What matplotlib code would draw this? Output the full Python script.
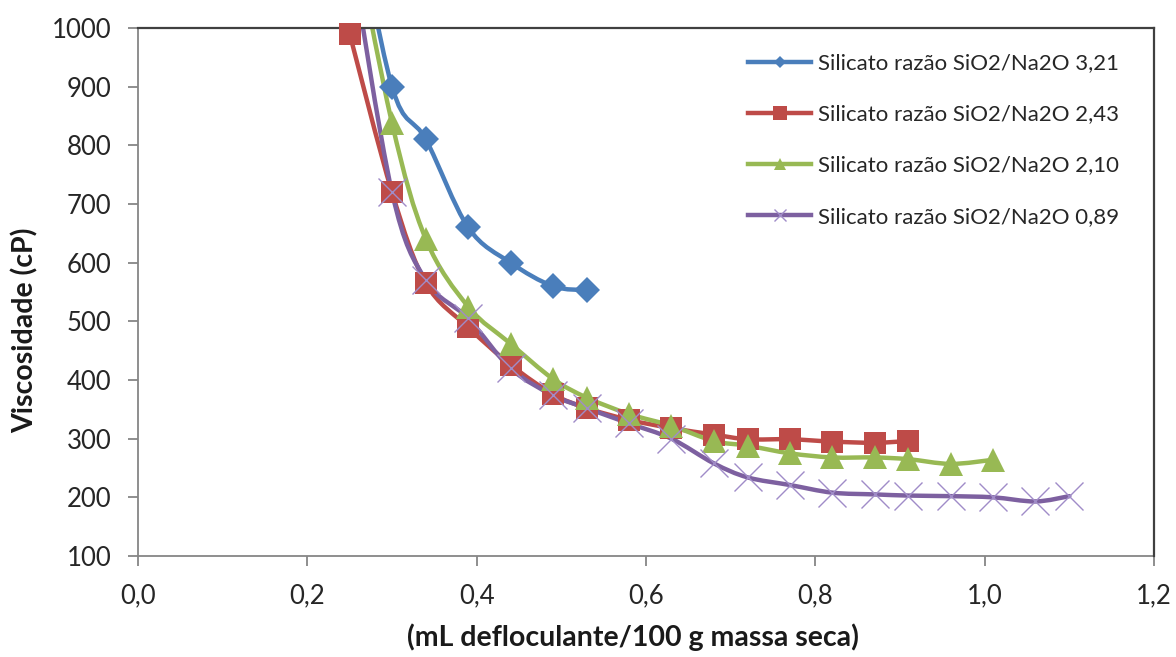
import numpy as np
import matplotlib
matplotlib.use("Agg")
import matplotlib.pyplot as plt
from matplotlib.path import Path
from matplotlib.patches import PathPatch
from matplotlib.lines import Line2D

plt.rcParams['font.family'] = ['Lato', 'DejaVu Sans']

# ---- data ----
labels = ["Silicato razão SiO2/Na2O 3,21", "Silicato razão SiO2/Na2O 2,43",
          "Silicato razão SiO2/Na2O 2,10", "Silicato razão SiO2/Na2O 0,89"]

blue_x = [0.25, 0.30, 0.34, 0.39, 0.44, 0.49, 0.53]
blue_y = [1250, 900, 810, 660, 600, 560, 553]

red_x = [0.25, 0.30, 0.34, 0.39, 0.44, 0.49, 0.53, 0.58, 0.63, 0.68, 0.72, 0.77, 0.82, 0.87, 0.91]
red_y = [990, 720, 565, 490, 426, 376, 352, 332, 318, 307, 299, 299, 295, 293, 296]

green_x = [0.25, 0.30, 0.34, 0.39, 0.44, 0.49, 0.53, 0.58, 0.63, 0.68, 0.72, 0.77, 0.82, 0.87, 0.91, 0.96, 1.01]
green_y = [1200, 838, 640, 525, 462, 402, 370, 342, 322, 296, 288, 275, 268, 268, 265, 257, 264]

purple_x = [0.25, 0.30, 0.34, 0.39, 0.44, 0.49, 0.53, 0.58, 0.63, 0.68, 0.72, 0.77, 0.82, 0.87, 0.91, 0.96, 1.01, 1.06, 1.10]
purple_y = [1140, 720, 570, 505, 420, 374, 352, 326, 300, 258, 234, 221, 208, 205, 203, 202, 200, 193, 202]

x_ticks = [0.0, 0.2, 0.4, 0.6, 0.8, 1.0, 1.2]
x_ticklabels = ["0,0", "0,2", "0,4", "0,6", "0,8", "1,0", "1,2"]
y_ticks = [100, 200, 300, 400, 500, 600, 700, 800, 900, 1000]

colors = ["#4A7EBB", "#BE4B48", "#98B954", "#7D60A0"]
marker_colors = ["#4A7EBB", "#BE4B48", "#98B954", "#A08CC8"]

series = [(blue_x, blue_y), (red_x, red_y), (green_x, green_y), (purple_x, purple_y)]


def smooth_path(xs, ys):
    P = np.column_stack([xs, ys]).astype(float)
    n = len(P)
    verts = [P[0]]
    codes = [Path.MOVETO]
    for i in range(n - 1):
        p0 = P[i - 1] if i > 0 else P[i]
        p1 = P[i]
        p2 = P[i + 1]
        p3 = P[i + 2] if i + 2 < n else P[i + 1]
        c1 = p1 + (p2 - p0) / 6.0
        c2 = p2 - (p3 - p1) / 6.0
        verts += [c1, c2, p2]
        codes += [Path.CURVE4] * 3
    return Path(verts, codes)


fig = plt.figure(figsize=(11.76, 6.57), dpi=100)
ax = fig.add_axes([138 / 1176, 1 - 556 / 657, (1154 - 138) / 1176, (556 - 28) / 657])

ax.set_xlim(0, 1.2)
ax.set_ylim(100, 1000)

lw = 3.2
for (xs, ys), c in zip(series, colors):
    patch = PathPatch(smooth_path(xs, ys), facecolor="none", edgecolor=c, lw=lw,
                      capstyle="round", joinstyle="round", zorder=2)
    ax.add_patch(patch)

mk_specs = [dict(marker="D", ms=13, mew=0),
            dict(marker="s", ms=16.5, mew=0),
            dict(marker="^", ms=17, mew=0),
            dict(marker="x", ms=20, mew=1.0)]

for (xs, ys), mc, spec in zip(series, marker_colors, mk_specs):
    xs = np.array(xs); ys = np.array(ys)
    m = ys <= 1000
    ax.plot(xs[m], ys[m], linestyle="none", color=mc, clip_on=False, zorder=4, **spec)

# axes styling
for s in ["left", "bottom"]:
    ax.spines[s].set_color("#868686")
    ax.spines[s].set_linewidth(1.3)
for s in ["top", "right"]:
    ax.spines[s].set_color("#404040")
    ax.spines[s].set_linewidth(1.6)
    ax.spines[s].set_zorder(3)

ax.set_xticks(x_ticks)
ax.set_xticklabels(x_ticklabels)
ax.set_yticks(y_ticks)
ax.tick_params(axis="both", direction="out", length=7, width=1.3, color="#868686",
               labelsize=18.5, labelcolor="#262626")
ax.tick_params(axis="y", pad=12)
ax.tick_params(axis="x", pad=13)

ax.set_xlabel("(mL defloculante/100 g massa seca)", fontsize=20.5, fontweight="bold",
              color="#1a1a1a")
ax.xaxis.set_label_coords((633 - 138) / 1016, -(637 - 556) / 528)
ax.set_ylabel("Viscosidade (cP)", fontsize=20.5, fontweight="bold", color="#1a1a1a")
ax.yaxis.set_label_coords(-(138 - 25) / 1016, (556 - 330) / 528)
ax.xaxis.label.set_va("center")
ax.yaxis.label.set_va("center")

# legend
leg_specs = [dict(marker="D", ms=6, mew=0),
             dict(marker="s", ms=10, mew=0),
             dict(marker="^", ms=9, mew=0),
             dict(marker="x", ms=9, mew=1.0)]
handles = []
for c, mc, spec in zip(colors, marker_colors, leg_specs):
    handles.append(Line2D([0], [0], color=c, lw=lw, markerfacecolor=mc,
                          markeredgecolor=mc, **spec))
leg = ax.legend(handles, labels, loc="upper left", bbox_to_anchor=(0.581, 0.99),
                frameon=False, fontsize=16, handlelength=2.83, handletextpad=0.3,
                labelspacing=1.4, labelcolor="#262626")

fig.savefig("out.png", dpi=100)
